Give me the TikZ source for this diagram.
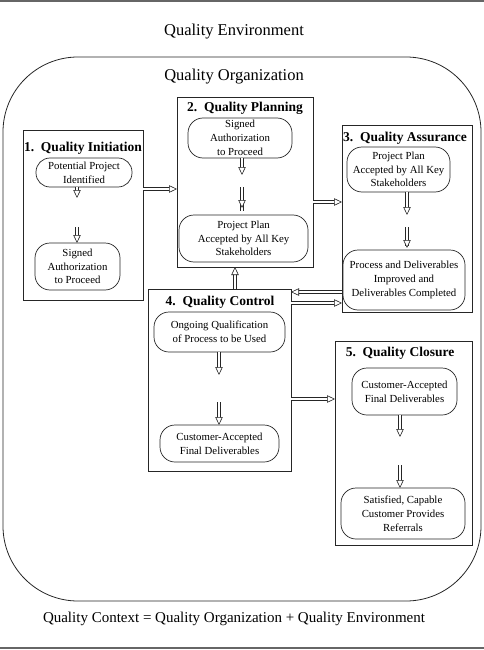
\documentclass[tikz,border=0pt]{standalone}
\usepackage{fontspec}
\setmainfont{Liberation Serif}
\usetikzlibrary{arrows.meta}
\begin{document}
\begin{tikzpicture}[x=1pt,y=-1pt,
  every node/.style={inner sep=0pt, outer sep=0pt},
  box/.style={draw=black!85, line width=0.8pt, rectangle},
  pill/.style={draw=black!85, line width=0.7pt, rounded corners=15pt, align=center,
    font=\fontsize{10.8}{13.8}\selectfont},
  ttl/.style={font=\bfseries\fontsize{13.5}{16}\selectfont},
  big/.style={font=\fontsize{16.5}{19}\selectfont},
  dbl/.style={draw=white, line width=0.6pt,
    -{Triangle[open, length=8pt, width=7.5pt, color=black!85, fill=white]},
    preaction={draw=black!85, line width=3.4pt, shorten >=4pt, -},
    preaction={draw=white, line width=2.2pt, shorten >=4pt, -}},
  frame/.style={draw=black!60, line width=1.6pt}
]
\useasboundingbox (0,0) rectangle (484,650);
\coordinate (fl1) at (0,1); \coordinate (fr1) at (484,1);
\coordinate (fl2) at (0,648); \coordinate (fr2) at (484,648);
\draw[frame] (fl1) -- (fr1);
\draw[frame] (fl2) -- (fr2);

\node[big] (env) at (234,32) {Quality Environment};
\node[draw=black!85, line width=0.8pt, rounded corners=75pt, minimum width=478pt, minimum height=544pt] (org) at (242,329) {};
\node[big] (orgl) at (234,77) {Quality Organization};
\node[font=\fontsize{15}{18}\selectfont] (ctx) at (234,619) {Quality Context = Quality Organization + Quality Environment};

% boxes
\node[box, minimum width=120pt, minimum height=170pt] (b1) at (83,215) {};
\node[box, minimum width=136pt, minimum height=170pt] (b2) at (245,182) {};
\node[box, minimum width=130pt, minimum height=187pt] (b3) at (407,218.5) {};
\node[box, minimum width=143pt, minimum height=182pt] (b4) at (219.5,380) {};
\node[box, minimum width=137pt, minimum height=204pt] (b5) at (403.5,443) {};

% titles
\node[ttl] (t1) at (83,148) {1.\ \ Quality Initiation};
\node[ttl] (t2) at (245,108) {2.\ \ Quality Planning};
\node[ttl] (t3) at (405,138) {3.\ \ Quality Assurance};
\node[ttl] (t4) at (220,302) {4.\ \ Quality Control};
\node[ttl] (t5) at (400,353) {5.\ \ Quality Closure};

% pills
\node[pill, rounded corners=14pt, minimum width=96pt, minimum height=29pt] (p1a) at (84,172.5) {Potential Project\\Identified};
\node[pill, minimum width=85pt, minimum height=47pt] (p1b) at (77.5,266.5) {Signed\\Authorization\\to Proceed};
\node[pill, minimum width=104pt, minimum height=40pt] (p2a) at (240,138) {Signed\\Authorization\\to Proceed};
\node[pill, minimum width=129pt, minimum height=47pt] (p2b) at (243.5,238.5) {Project Plan\\Accepted by All Key\\Stakeholders};
\node[pill, minimum width=103pt, minimum height=45pt] (p3a) at (398.5,169.5) {Project Plan\\Accepted by All Key\\Stakeholders};
\node[pill, minimum width=122pt, minimum height=60pt] (p3b) at (404,280) {Process and Deliverables\\Improved and\\Deliverables Completed};
\node[pill, minimum width=131pt, minimum height=40pt] (p4a) at (219.5,332) {Ongoing Qualification\\of Process to be Used};
\node[pill, minimum width=119pt, minimum height=37pt] (p4b) at (219.5,443.5) {Customer-Accepted\\Final Deliverables};
\node[pill, minimum width=105pt, minimum height=47pt] (p5a) at (404.5,391.5) {Customer-Accepted\\Final Deliverables};
\node[pill, minimum width=124pt, minimum height=51pt] (p5b) at (403,513.5) {Satisfied, Capable\\Customer Provides\\Referrals};

% intra-box split arrows
\coordinate (m1a) at (77,198); \coordinate (m1b) at (77,227);
\draw[dbl] (p1a.south -| m1a) -- (m1a);
\draw[dbl] (m1b) -- (p1b.north -| m1b);
\coordinate (m2a) at (242,175); \coordinate (m2b) at (242,187);
\draw[dbl] (p2a.south -| m2a) -- (m2a);
\draw[dbl, shorten >=7pt] (m2b) -- (p2b.north -| m2b);
\coordinate (m3a) at (407,215); \coordinate (m3b) at (407,227);
\draw[dbl] (p3a.south -| m3a) -- (m3a);
\draw[dbl, shorten >=2pt] (m3b) -- (p3b.north -| m3b);
\coordinate (m4a) at (219,375); \coordinate (m4b) at (219,402);
\draw[dbl] (p4a.south -| m4a) -- (m4a);
\draw[dbl] (m4b) -- (p4b.north -| m4b);
\coordinate (m5a) at (400,437); \coordinate (m5b) at (400,465);
\draw[dbl] (p5a.south -| m5a) -- (m5a);
\draw[dbl] (m5b) -- (p5b.north -| m5b);

% inter-box arrows
\coordinate (y12) at (0,189);
\coordinate (y23) at (0,202);
\coordinate (y34) at (0,292);
\coordinate (y43) at (0,303);
\coordinate (y45) at (0,399);
\coordinate (x42) at (235,0);
\draw[dbl] (b1.east |- y12) -- (b2.west |- y12);
\draw[dbl] (b2.east |- y23) -- (b3.west |- y23);
\draw[dbl] (b3.west |- y34) -- (b4.east |- y34);
\draw[dbl] (b4.east |- y43) -- (b3.west |- y43);
\draw[dbl] (b4.east |- y45) -- (b5.west |- y45);
\draw[dbl] (b4.north -| x42) -- (b2.south -| x42);
\end{tikzpicture}
\end{document}
